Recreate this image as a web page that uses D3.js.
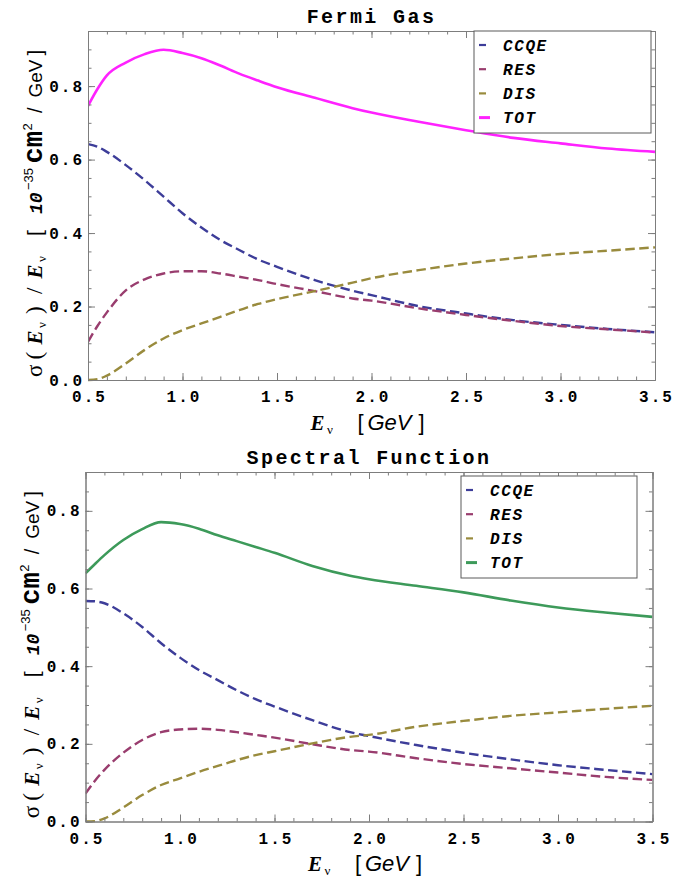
<!DOCTYPE html>
<html><head><meta charset="utf-8">
<script src="https://cdn.jsdelivr.net/npm/d3@7"></script>
<style>body{margin:0;background:#fff}svg{display:block}</style>
</head><body>
<svg id="c" width="673" height="881"></svg>
<script>
const energies = [0.5,0.55,0.6,0.7,0.8,0.9,1.0,1.1,1.2,1.3,1.4,1.5,1.7,1.9,2.0,2.25,2.5,2.75,3.0,3.25,3.5];

const fgCCQE = [0.642,0.635,0.621,0.585,0.544,0.499,0.454,0.415,0.381,0.354,0.328,0.308,0.272,0.243,0.231,0.201,0.181,0.163,0.150,0.139,0.130];
const fgRES  = [0.104,0.147,0.184,0.244,0.274,0.290,0.296,0.296,0.290,0.281,0.272,0.261,0.242,0.222,0.216,0.195,0.177,0.161,0.147,0.138,0.129];
const fgDIS  = [0.000,0.002,0.012,0.045,0.082,0.113,0.136,0.154,0.172,0.190,0.207,0.220,0.242,0.265,0.277,0.299,0.317,0.331,0.343,0.352,0.361];
const fgTOT  = [0.746,0.792,0.829,0.864,0.887,0.899,0.890,0.876,0.856,0.834,0.815,0.797,0.768,0.740,0.728,0.703,0.680,0.659,0.644,0.630,0.621];

const sfCCQE = [0.568,0.567,0.562,0.536,0.501,0.459,0.422,0.390,0.364,0.338,0.315,0.296,0.261,0.230,0.220,0.197,0.177,0.160,0.145,0.133,0.122];
const sfRES  = [0.072,0.105,0.133,0.177,0.210,0.230,0.237,0.239,0.236,0.230,0.223,0.216,0.199,0.184,0.180,0.163,0.148,0.137,0.126,0.115,0.107];
const sfDIS  = [0.000,0.001,0.008,0.036,0.068,0.094,0.111,0.128,0.143,0.158,0.171,0.181,0.201,0.218,0.223,0.244,0.259,0.272,0.281,0.290,0.298];
const sfTOT  = [0.639,0.663,0.686,0.725,0.753,0.771,0.766,0.754,0.737,0.722,0.707,0.692,0.658,0.633,0.624,0.607,0.590,0.569,0.551,0.538,0.527];

const seriesNames = ["CCQE","RES","DIS","TOT"];
const xTickLabels = ["0.5","1.0","1.5","2.0","2.5","3.0","3.5"];
const yTickLabels = ["0.0","0.2","0.4","0.6","0.8"];
const panelTitles = ["Fermi Gas","Spectral Function"];

const colCCQE = "#3d3d99", colRES = "#993d6e", colDIS = "#998b3d";
const svg = d3.select("#c");
const MONO = "'Liberation Mono','Courier New',monospace";
const SERIF = "'Liberation Serif','Times New Roman',serif";
const SANS = "'Liberation Sans',Arial,sans-serif";

// y-label pieces: text, font, size, weight, style, offset along axis from centre, baseline shift
const yLabelPieces = [
  ["σ", SERIF, 23, "normal", "normal", 171.5, 0],
  ["(", SERIF, 23, "normal", "normal", 154, 0],
  ["E", SERIF, 21, "bold", "italic", 139, 0],
  ["ν", SERIF, 13, "normal", "normal", 122.5, 4],
  [")", SERIF, 23, "normal", "normal", 108.5, 0],
  ["/", SERIF, 23, "normal", "normal", 88.5, 0],
  ["E", SERIF, 21, "bold", "italic", 73, 0],
  ["ν", SERIF, 13, "normal", "normal", 56.5, 4],
  ["[", SANS, 21, "normal", "normal", 30.5, 0],
  ["10", MONO, 18, "bold", "italic", 8.5, 0],
  ["−35", SANS, 13, "normal", "normal", -15.5, -9],
  ["cm", MONO, 27, "bold", "normal", -42, 0],
  ["2", SANS, 13, "normal", "normal", -75, -10],
  ["/", SANS, 20, "normal", "normal", -92.5, 0],
  ["GeV", SANS, 19, "normal", "normal", -108, 0],
  ["]", SANS, 21, "normal", "normal", -150, 0]
];
// x-label pieces: text, font, size, weight, style, x offset from centre, baseline shift
const xLabelPieces = [
  ["E", SERIF, 21, "bold", "italic", -61, 0],
  ["ν", SERIF, 13, "normal", "normal", -44.5, 4],
  ["[", SANS, 22, "normal", "normal", -14, 0],
  ["GeV", SANS, 22, "normal", "italic", -4, 0],
  ["]", SANS, 22, "normal", "normal", 47, 0]
];

function drawPanel(p){
  const x = d3.scaleLinear().domain([0.5,3.5]).range([p.left,p.right]);
  const y = d3.scaleLinear().domain([0,p.yMax]).range([p.bottom,p.top]);
  const g = svg.append("g");
  const frameCol = "#7d7d7d";

  const line = d3.line().x((d,i)=>x(energies[i])).y(d=>y(d)).curve(d3.curveMonotoneX);
  const clipId = "clip"+p.id;
  g.append("clipPath").attr("id",clipId).append("rect")
    .attr("x",p.left).attr("y",p.top).attr("width",p.right-p.left).attr("height",p.bottom-p.top+2);
  const cg = g.append("g").attr("clip-path",`url(#${clipId})`);
  p.series.forEach(s=>{
    cg.append("path").attr("d",line(s.values)).attr("fill","none")
      .attr("stroke",s.color).attr("stroke-width",s.dash?2.4:2.6)
      .attr("stroke-dasharray",s.dash?"9.5,4.5":null);
  });

  const xMaj = xTickLabels.map(Number);
  const xMin = d3.range(5,36).map(v=>v/10);
  const yMaj = yTickLabels.map(Number);
  const yMin = d3.range(0,Math.floor(p.yMax*20+1e-9)+1).map(v=>v/20);

  const gb = g.append("g").attr("transform",`translate(0,${p.bottom})`)
    .call(d3.axisBottom(x).tickValues(xMaj).tickFormat((d,i)=>xTickLabels[i]).tickSizeInner(-7).tickSizeOuter(0).tickPadding(11));
  g.append("g").attr("transform",`translate(0,${p.bottom})`)
    .call(d3.axisBottom(x).tickValues(xMin).tickFormat("").tickSizeInner(-3.5).tickSizeOuter(0));
  g.append("g").attr("transform",`translate(0,${p.top})`)
    .call(d3.axisTop(x).tickValues(xMaj).tickFormat("").tickSizeInner(-7).tickSizeOuter(0));
  g.append("g").attr("transform",`translate(0,${p.top})`)
    .call(d3.axisTop(x).tickValues(xMin).tickFormat("").tickSizeInner(-3.5).tickSizeOuter(0));

  g.append("g").attr("transform",`translate(${p.left},0)`)
    .call(d3.axisLeft(y).tickValues(yMaj).tickFormat((d,i)=>yTickLabels[i]).tickSizeInner(-7).tickSizeOuter(0).tickPadding(4));
  g.append("g").attr("transform",`translate(${p.left},0)`)
    .call(d3.axisLeft(y).tickValues(yMin).tickFormat("").tickSizeInner(-3.5).tickSizeOuter(0));
  g.append("g").attr("transform",`translate(${p.right},0)`)
    .call(d3.axisRight(y).tickValues(yMaj).tickFormat("").tickSizeInner(-7).tickSizeOuter(0));
  g.append("g").attr("transform",`translate(${p.right},0)`)
    .call(d3.axisRight(y).tickValues(yMin).tickFormat("").tickSizeInner(-3.5).tickSizeOuter(0));

  g.selectAll(".domain").attr("stroke",frameCol).attr("stroke-width",1);
  g.selectAll(".tick line").attr("stroke",frameCol).attr("stroke-width",1);
  g.selectAll(".tick text").attr("font-family",MONO).attr("font-size",16).attr("font-weight","bold")
    .attr("fill","#000").attr("letter-spacing","2px");
  gb.selectAll(".tick text").attr("dx","1");

  // title
  g.append("text").attr("x",(p.left+p.right)/2).attr("y",p.titleY).attr("text-anchor","middle")
    .attr("font-family",MONO).attr("font-weight","bold").attr("font-size",20).attr("letter-spacing","2.4px")
    .text(p.title);

  // x label
  const cx = (p.left+p.right)/2;
  xLabelPieces.forEach(([t,f,s,w,st,off,sh])=>{
    g.append("text").attr("x",cx+off).attr("y",p.bottom+49.5+sh)
      .attr("font-family",f).attr("font-size",s).attr("font-weight",w).attr("font-style",st).text(t);
  });

  // y label
  const cy = (p.top+p.bottom)/2;
  const yg = g.append("g").attr("transform",`translate(${p.yLabelX},${cy}) rotate(-90)`);
  yLabelPieces.forEach(([t,f,s,w,st,off,sh])=>{
    yg.append("text").attr("x",-off).attr("y",sh)
      .attr("font-family",f).attr("font-size",s).attr("font-weight",w).attr("font-style",st).text(t);
  });

  // legend
  const L = p.legend;
  g.append("rect").attr("x",L.x).attr("y",L.y).attr("width",L.w).attr("height",L.h)
    .attr("fill","#fff").attr("stroke","#5a5a5a").attr("stroke-width",1);
  p.series.forEach((s,i)=>{
    const yy = L.y + 14 + i*24.2;
    const isTot = s.name==="TOT";
    g.append("line").attr("x1",L.x+5).attr("x2",L.x+5+(isTot?11:7)).attr("y1",yy).attr("y2",yy)
      .attr("stroke",s.color).attr("stroke-width",isTot?3:2.2);
    g.append("text").attr("x",L.x+29).attr("y",yy+5.5).attr("font-family",MONO).attr("font-weight","bold")
      .attr("font-style","italic").attr("font-size",16).attr("letter-spacing","1.6px").text(s.name);
  });
}

drawPanel({
  id:1, left:88, right:655, top:31, bottom:380, yMax:0.95, titleY:23, yLabelX:41.5,
  title:panelTitles[0],
  legend:{x:474,y:31,w:177,h:102},
  series:[
    {name:seriesNames[0],values:fgCCQE,color:colCCQE,dash:true},
    {name:seriesNames[1],values:fgRES,color:colRES,dash:true},
    {name:seriesNames[2],values:fgDIS,color:colDIS,dash:true},
    {name:seriesNames[3],values:fgTOT,color:"#ff22ff",dash:false}
  ]
});
drawPanel({
  id:2, left:85.5, right:652.5, top:472, bottom:821.5, yMax:0.9, titleY:464, yLabelX:39,
  title:panelTitles[1],
  legend:{x:461,y:476,w:176,h:102},
  series:[
    {name:seriesNames[0],values:sfCCQE,color:colCCQE,dash:true},
    {name:seriesNames[1],values:sfRES,color:colRES,dash:true},
    {name:seriesNames[2],values:sfDIS,color:colDIS,dash:true},
    {name:seriesNames[3],values:sfTOT,color:"#3d9a5a",dash:false}
  ]
});
</script>
</body></html>
